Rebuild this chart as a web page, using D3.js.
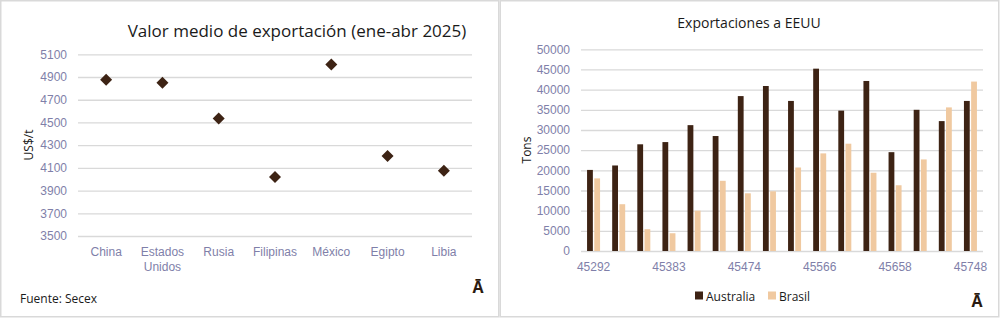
<!DOCTYPE html>
<html>
<head>
<meta charset="utf-8">
<script src="https://cdn.jsdelivr.net/npm/d3@7"></script>
<style>
  body { margin: 0; background: #fff; }
  svg { display: block; font-family: "Open Sans", "Noto Sans", sans-serif; }
</style>
</head>
<body>
<div id="vis"></div>
<script>
// Left chart: average export value by destination
var countries = ['China', 'Estados Unidos', 'Rusia', 'Filipinas', 'México', 'Egipto', 'Libia'];
var avgValue = [4875, 4850, 4535, 4020, 5010, 4205, 4075];
var leftTicks = [3500, 3700, 3900, 4100, 4300, 4500, 4700, 4900, 5100];

// Right chart: monthly exports to the US (Excel date serials on the axis)
var months = [45292, 45323, 45352, 45383, 45413, 45444, 45474, 45505,
              45536, 45566, 45597, 45627, 45658, 45689, 45717, 45748];
var monthLabels = [45292, 45383, 45474, 45566, 45658, 45748];
var australia = [20100, 21200, 26450, 27000, 31200, 28500, 38400, 40900,
                 37200, 45200, 34800, 42150, 24500, 35000, 32200, 37200];
var brasil = [18000, 11600, 5400, 4400, 10000, 17400, 14300, 14800,
              20700, 24200, 26600, 19400, 16300, 22700, 35600, 42000];
var rightTicks = d3.range(0, 50001, 5000);

var width = 1000, height = 318;
var tickColor = '#7f7fa9';
var gridColor = '#d9d9d9';
var darkBrown = '#3d2314';
var lightTan = '#f0c9a0';

var svg = d3.select('#vis').append('svg')
  .attr('width', width)
  .attr('height', height);

// panel borders
svg.append('rect').attr('x', 0.75).attr('y', 0.75).attr('width', 498).attr('height', 316)
  .attr('fill', 'none').attr('stroke', gridColor).attr('stroke-width', 1.5);
svg.append('rect').attr('x', 500.25).attr('y', 0.75).attr('width', 498.5).attr('height', 316)
  .attr('fill', 'none').attr('stroke', gridColor).attr('stroke-width', 1.5);

// ---------- left: scatter of diamonds ----------
var xL = d3.scaleBand().domain(countries).range([78, 472]);
var yL = d3.scaleLinear().domain([3500, 5100]).range([236, 54.3]);

var left = svg.append('g');

left.append('g')
  .attr('transform', 'translate(78,0)')
  .call(d3.axisLeft(yL).tickValues(leftTicks).tickSize(-394).tickPadding(11).tickFormat(d3.format('d')))
  .call(function (g) { g.select('.domain').remove(); })
  .call(function (g) {
    g.selectAll('line').attr('stroke', gridColor).attr('stroke-width', 1.3);
    g.selectAll('text').attr('fill', tickColor).style('font-size', '12px');
  });

left.append('g')
  .attr('transform', 'translate(0,236)')
  .call(d3.axisBottom(xL).tickSize(0).tickPadding(11))
  .call(function (g) { g.select('.domain').remove(); })
  .call(function (g) {
    g.selectAll('text')
      .attr('fill', tickColor)
      .style('font-size', '12px')
      .each(function (d) {
        var t = d3.select(this);
        var words = d.split(' ');
        if (words.length > 1) {
          t.text(null);
          words.forEach(function (w, i) {
            t.append('tspan').attr('x', 0).attr('dy', i === 0 ? '0.71em' : '1.3em').text(w);
          });
          t.attr('dy', null);
        }
      });
  });

left.selectAll('.diamond')
  .data(countries)
  .enter().append('path')
  .attr('class', 'diamond')
  .attr('d', d3.symbol().type(d3.symbolSquare).size(72))
  .attr('transform', function (d, i) {
    return 'translate(' + (xL(d) + xL.bandwidth() / 2) + ',' + yL(avgValue[i]) + ') rotate(45)';
  })
  .attr('fill', darkBrown);

left.append('text')
  .attr('x', 297).attr('y', 37)
  .attr('text-anchor', 'middle')
  .style('font-size', '17px')
  .attr('fill', '#1a1a1a')
  .text('Valor medio de exportación (ene-abr 2025)');

left.append('text')
  .attr('transform', 'translate(33,145) rotate(-90)')
  .attr('text-anchor', 'middle')
  .style('font-size', '12px')
  .attr('fill', '#1a1a1a')
  .text('US$/t');

left.append('text')
  .attr('x', 20).attr('y', 303)
  .style('font-size', '12px')
  .attr('fill', '#1a1a1a')
  .text('Fuente: Secex');

left.append('text')
  .attr('x', 478).attr('y', 293)
  .attr('text-anchor', 'middle')
  .style('font-size', '16px').style('font-weight', 'bold')
  .attr('fill', '#2a1a10')
  .text('Ā');

// ---------- right: grouped bars ----------
var xR = d3.scaleBand().domain(months).range([581, 983]);
var yR = d3.scaleLinear().domain([0, 50000]).range([251, 49.3]);
var barW = 5.8, barGap = 1.4;

var right = svg.append('g');

right.append('g')
  .attr('transform', 'translate(581,0)')
  .call(d3.axisLeft(yR).tickValues(rightTicks).tickSize(-402).tickPadding(11).tickFormat(d3.format('d')))
  .call(function (g) { g.select('.domain').remove(); })
  .call(function (g) {
    g.selectAll('line').attr('stroke', gridColor).attr('stroke-width', 1.3);
    g.selectAll('text').attr('fill', tickColor).style('font-size', '12px');
  });

right.append('g')
  .attr('transform', 'translate(0,251)')
  .call(d3.axisBottom(xR).tickValues(monthLabels).tickSize(0).tickPadding(11))
  .call(function (g) { g.select('.domain').remove(); })
  .call(function (g) {
    g.selectAll('text').attr('fill', tickColor).style('font-size', '12px');
  });

function groupX(d) { return xR(d) + xR.bandwidth() / 2; }

right.selectAll('.aus')
  .data(months)
  .enter().append('rect')
  .attr('class', 'aus')
  .attr('x', function (d) { return groupX(d) - barGap / 2 - barW; })
  .attr('y', function (d, i) { return yR(australia[i]); })
  .attr('width', barW)
  .attr('height', function (d, i) { return yR(0) - yR(australia[i]); })
  .attr('fill', darkBrown);

right.selectAll('.bra')
  .data(months)
  .enter().append('rect')
  .attr('class', 'bra')
  .attr('x', function (d) { return groupX(d) + barGap / 2; })
  .attr('y', function (d, i) { return yR(brasil[i]); })
  .attr('width', barW)
  .attr('height', function (d, i) { return yR(0) - yR(brasil[i]); })
  .attr('fill', lightTan);

right.append('text')
  .attr('x', 749).attr('y', 28)
  .attr('text-anchor', 'middle')
  .style('font-size', '14px')
  .attr('fill', '#1a1a1a')
  .text('Exportaciones a EEUU');

right.append('text')
  .attr('transform', 'translate(531,150) rotate(-90)')
  .attr('text-anchor', 'middle')
  .style('font-size', '12px')
  .attr('fill', '#1a1a1a')
  .text('Tons');

// legend
var legend = right.append('g').attr('transform', 'translate(695,296)');
var legendItems = [{ name: 'Australia', color: darkBrown, x: 0 }, { name: 'Brasil', color: lightTan, x: 73 }];
legend.selectAll('rect')
  .data(legendItems)
  .enter().append('rect')
  .attr('x', function (d) { return d.x; })
  .attr('y', -4.5)
  .attr('width', 8).attr('height', 8)
  .attr('fill', function (d) { return d.color; });
legend.selectAll('text')
  .data(legendItems)
  .enter().append('text')
  .attr('x', function (d) { return d.x + 11; })
  .attr('y', 4.5)
  .style('font-size', '12px')
  .attr('fill', '#1a1a1a')
  .text(function (d) { return d.name; });

right.append('text')
  .attr('x', 977).attr('y', 307)
  .attr('text-anchor', 'middle')
  .style('font-size', '16px').style('font-weight', 'bold')
  .attr('fill', '#2a1a10')
  .text('Ā');
</script>
</body>
</html>
